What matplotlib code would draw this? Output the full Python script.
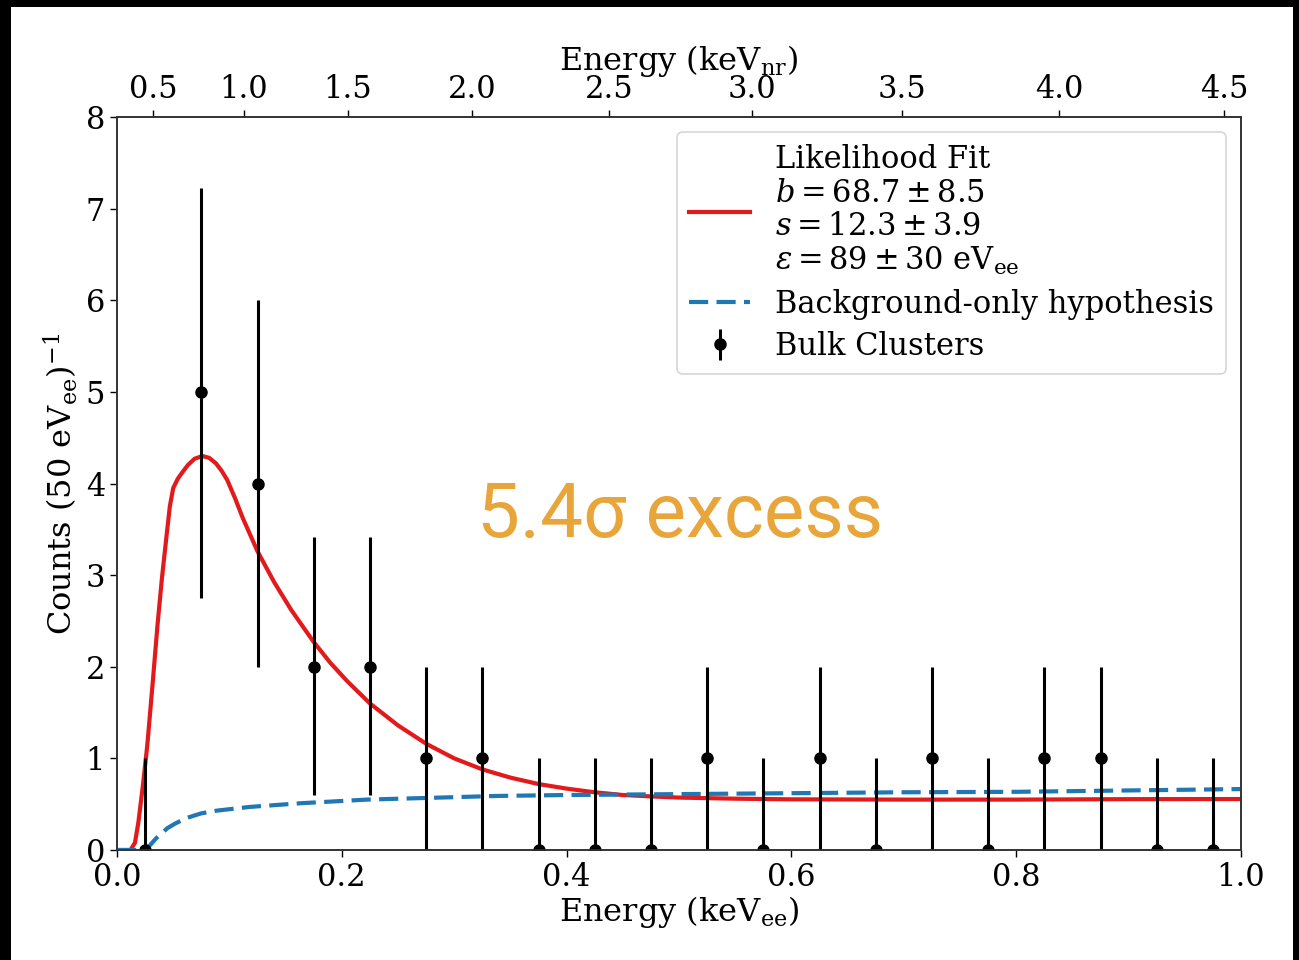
import numpy as np
import matplotlib
matplotlib.use("Agg")
import matplotlib.pyplot as plt
from matplotlib.patches import Rectangle

# ---------------- data ----------------
bin_centers = [0.025, 0.075, 0.125, 0.175, 0.225, 0.275, 0.325, 0.375, 0.425, 0.475,
               0.525, 0.575, 0.625, 0.675, 0.725, 0.775, 0.825, 0.875, 0.925, 0.975]
counts = [0, 5, 4, 2, 2, 1, 1, 0, 0, 0, 1, 0, 1, 0, 1, 0, 1, 1, 0, 0]
err_low = [0, 2.75, 2.0, 0.6, 0.6, 0, 0, 0, 0, 0, 0, 0, 0, 0, 0, 0, 0, 0, 0, 0]
err_high = [1.0, 7.23, 6.0, 3.42, 3.42, 2.0, 2.0, 1.0, 1.0, 1.0, 2.0, 1.0, 2.0, 1.0, 2.0, 1.0, 2.0, 2.0, 1.0, 1.0]

fit_x = [0.0, 0.012, 0.016, 0.019, 0.023, 0.027, 0.032, 0.036, 0.040, 0.044, 0.047,
         0.050, 0.054, 0.058, 0.063, 0.069, 0.076, 0.082, 0.088, 0.093, 0.098, 0.105,
         0.112, 0.125, 0.14, 0.155, 0.175, 0.19, 0.205, 0.225, 0.25, 0.275, 0.30, 0.325,
         0.35, 0.375, 0.40, 0.425, 0.45, 0.475, 0.50, 0.55, 0.60, 0.70, 0.80, 0.90, 1.0]
fit_y = [0.0, 0.0, 0.08, 0.3, 0.7, 1.15, 1.86, 2.45, 2.97, 3.42, 3.75,
         3.95, 4.05, 4.12, 4.20, 4.27, 4.30, 4.28, 4.22, 4.14, 4.04, 3.84,
         3.62, 3.26, 2.92, 2.62, 2.27, 2.04, 1.84, 1.60, 1.36, 1.16, 1.00, 0.88,
         0.79, 0.72, 0.67, 0.63, 0.60, 0.585, 0.572, 0.56, 0.553, 0.55, 0.55, 0.555, 0.556]

bkg_x = [0.0, 0.025, 0.027, 0.035, 0.045, 0.052, 0.062, 0.075, 0.089, 0.118, 0.163, 0.222,
         0.281, 0.338, 0.40, 0.50, 0.60, 0.70, 0.80, 0.90, 1.0]
bkg_y = [0.0, 0.0, 0.02, 0.13, 0.24, 0.29, 0.35, 0.40, 0.43, 0.47, 0.51, 0.55,
         0.57, 0.59, 0.60, 0.61, 0.62, 0.63, 0.635, 0.65, 0.665]

nr_tick_labels = ["0.5", "1.0", "1.5", "2.0", "2.5", "3.0", "3.5", "4.0", "4.5"]
nr_tick_pos_ee = [0.032, 0.113, 0.2055, 0.316, 0.438, 0.565, 0.698, 0.838, 0.985]

fit_label = ("Likelihood Fit\n"
             r"$b = 68.7 \pm 8.5$" "\n"
             r"$s = 12.3 \pm 3.9$" "\n"
             r"$\varepsilon = 89 \pm 30\ \mathrm{eV_{ee}}$")

# ---------------- style ----------------
plt.rcParams['font.family'] = ['DejaVu Serif']
plt.rcParams['mathtext.fontset'] = 'dejavuserif'
FS = 22

fig = plt.figure(figsize=(12.99, 9.60), dpi=100, facecolor='black')
bg = Rectangle((11 / 1299, 0), (1293 - 11) / 1299, 1 - 7 / 960,
               transform=fig.transFigure, facecolor='white',
               edgecolor='none', zorder=-10)
fig.patches.append(bg)

ax = fig.add_axes([117 / 1299, 1 - 850 / 960, (1241 - 117) / 1299, (850 - 117) / 960])
ax.set_facecolor('white')

ax.plot(fit_x, fit_y, color='#e31a1c', lw=3.0, label=fit_label, zorder=2)
ax.plot(bkg_x, bkg_y, color='#1f77b4', lw=3.0, dashes=(4.6, 2.0),
        label='Background-only hypothesis', zorder=3)
cnt = np.array(counts, dtype=float)
yerr = np.vstack([cnt - np.array(err_low), np.array(err_high) - cnt])
ax.errorbar(bin_centers, counts, yerr=yerr, fmt='o', color='black', ms=8,
            elinewidth=2.2, capsize=0, label='Bulk Clusters', zorder=4)

ax.set_xlim(0, 1)
ax.set_ylim(0, 8)
ax.set_xticks([0.0, 0.2, 0.4, 0.6, 0.8, 1.0])
ax.set_yticks(range(9))
ax.tick_params(labelsize=FS, width=1.0, length=5)
for s in ax.spines.values():
    s.set_color('#333333')
    s.set_linewidth(1.2)

ax.set_xlabel(r'Energy (keV$_{\mathrm{ee}}$)', fontsize=FS + 1, labelpad=1)
ax.set_ylabel(r'Counts (50 eV$_{\mathrm{ee}}$)$^{-1}$', fontsize=FS + 1, labelpad=4)

ax2 = ax.twiny()
ax2.set_xlim(0, 1)
ax2.set_xticks(nr_tick_pos_ee)
ax2.set_xticklabels(nr_tick_labels)
ax2.tick_params(labelsize=FS, width=1.0, length=5)
ax2.set_xlabel(r'Energy (keV$_{\mathrm{nr}}$)', fontsize=FS + 1, labelpad=3)
for s in ax2.spines.values():
    s.set_color('#333333')
    s.set_linewidth(1.2)

leg = ax.legend(loc='upper right', fontsize=FS, frameon=True, fancybox=True,
                borderpad=0.4, labelspacing=0.38, handletextpad=0.8)
leg.get_texts()[0].set_linespacing(1.1)
leg.get_frame().set_edgecolor('#cccccc')
leg.get_frame().set_linewidth(1.2)

ax.text(0.501, 0.455, '5.4σ excess', transform=ax.transAxes, ha='center', va='center',
        fontsize=55, color='#E8A63A', family=['Roboto', 'DejaVu Sans'], fontweight='normal')

fig.savefig('out.png', dpi=100, facecolor='black')
